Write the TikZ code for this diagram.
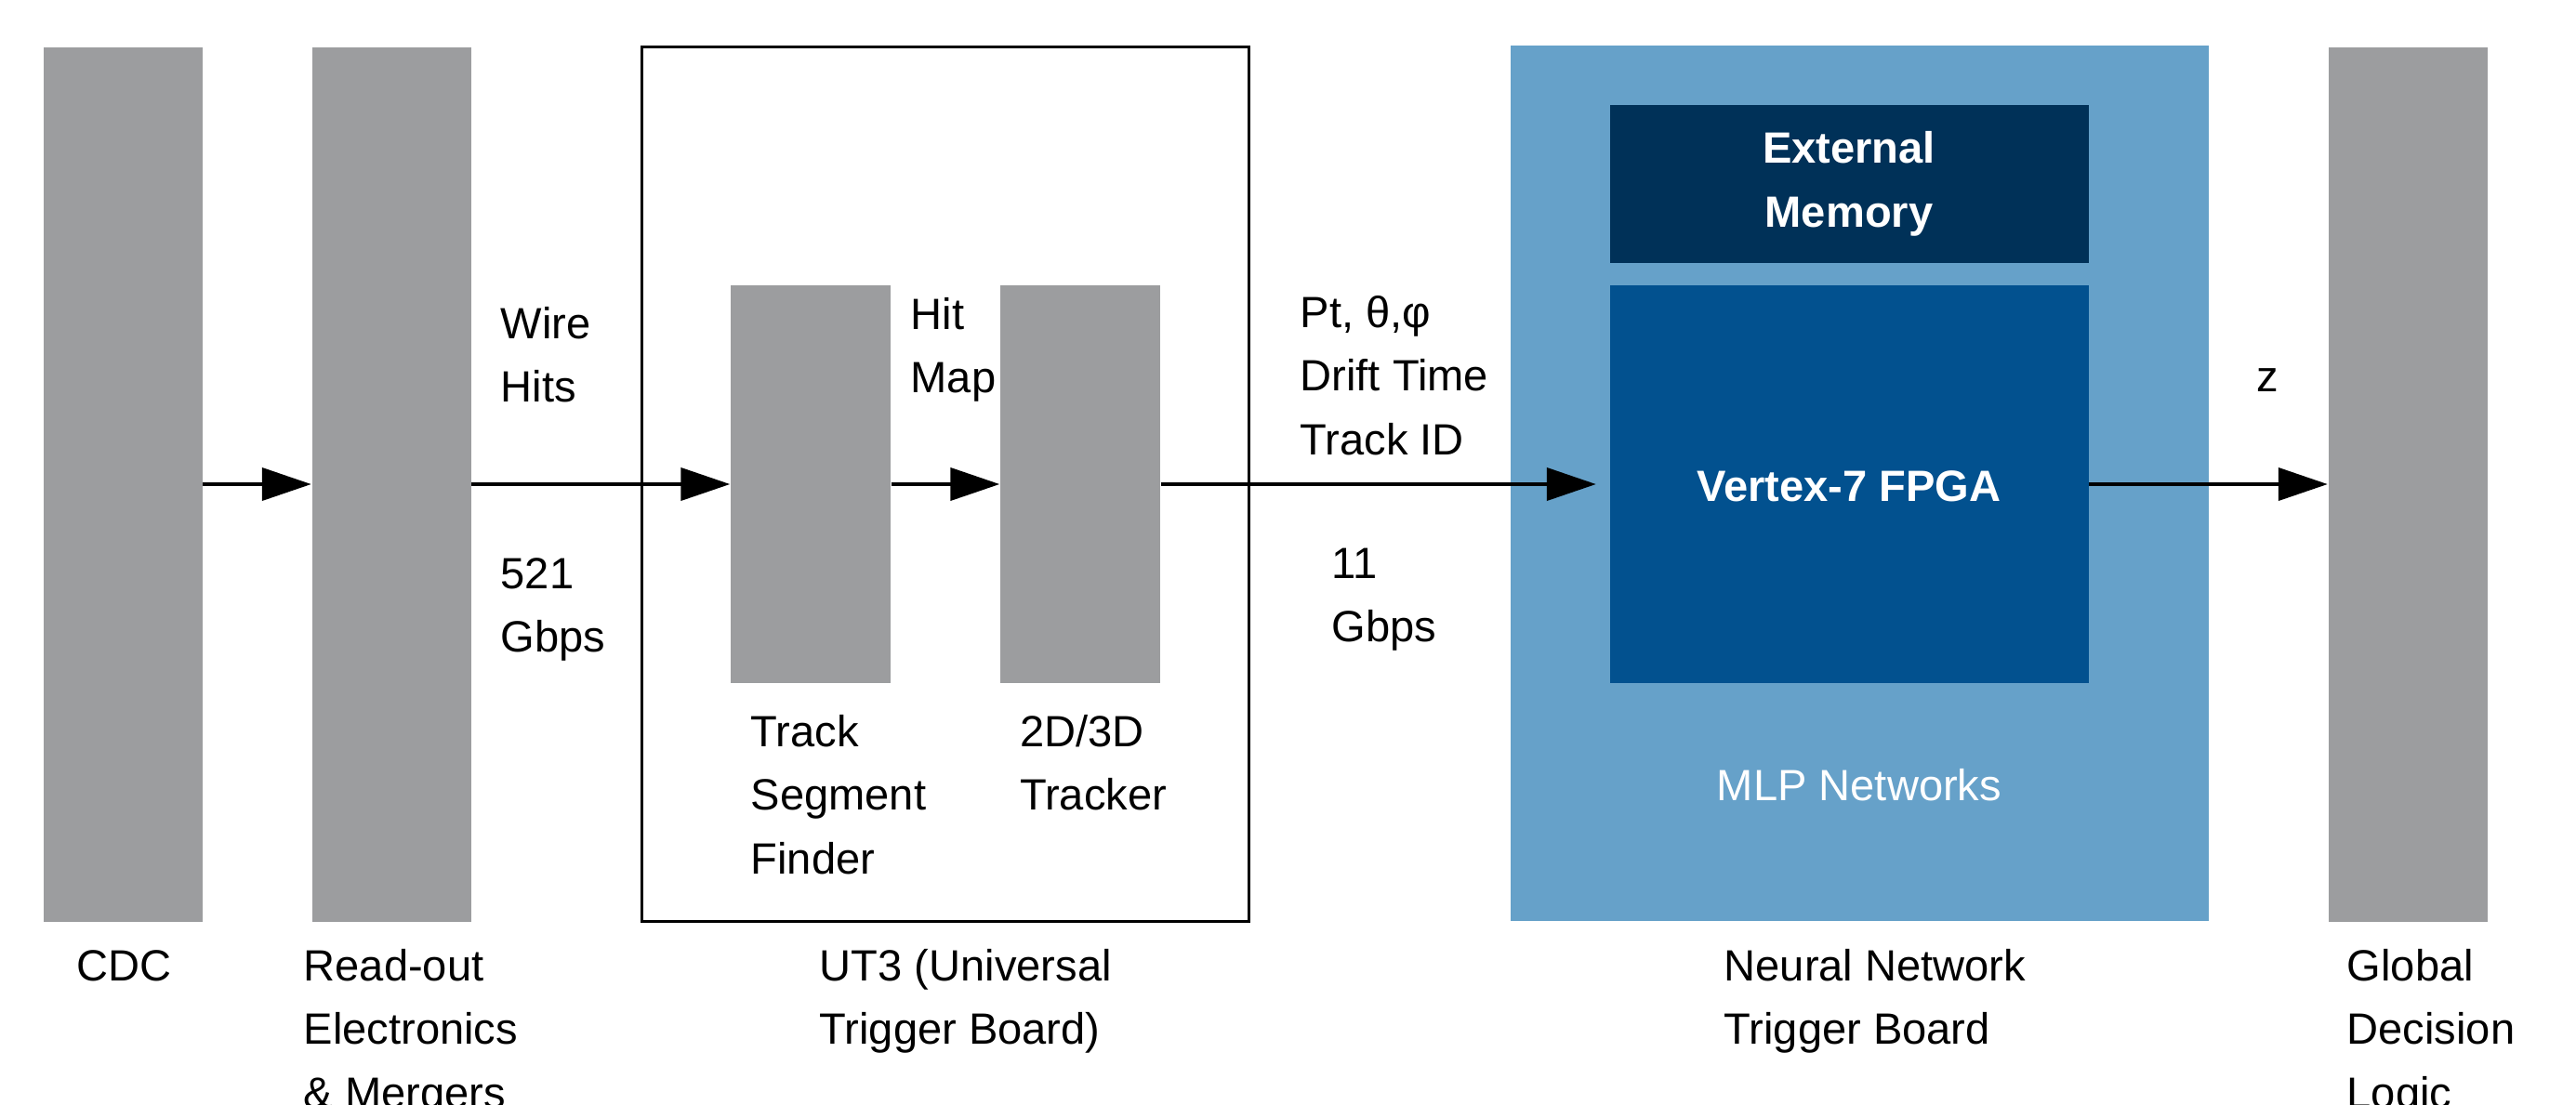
\documentclass[tikz,border=0pt]{standalone}
\usepackage{fontspec}
\setmainfont{Liberation Sans}
\usetikzlibrary{arrows.meta}

\definecolor{bargray}{HTML}{9C9D9F}
\definecolor{boardblue}{HTML}{66A1C9}
\definecolor{fpgablue}{HTML}{02518F}
\definecolor{memblue}{HTML}{003158}

\begin{document}
\begin{tikzpicture}[
	font=\fontsize{13.4}{19.5}\selectfont,
	bar/.style={fill=bargray, inner sep=0pt, minimum width=1.71cm, minimum height=9.41cm},
	unit/.style={fill=bargray, inner sep=0pt, minimum width=1.72cm, minimum height=4.275cm},
	chip/.style={fill=#1, inner sep=0pt, minimum width=5.15cm, text=white, font=\fontsize{13.4}{19.5}\selectfont\bfseries, align=center},
	txt/.style={anchor=base west, align=left, inner sep=0pt},
	flow/.style={line width=0.04cm, -{Triangle[length=0.53cm,width=0.35cm]}}
]
	\useasboundingbox (0,0) rectangle (27.71,11.88);

	% boards and blocks
	\node (cdc) at (1.32, 6.67) [bar] {};
	\node (ro) at (4.21, 6.67) [bar] {};
	\node (ut3) at (10.17, 6.67) [draw, line width=0.9pt, inner sep=0pt, minimum width=6.53cm, minimum height=9.41cm] {};
	\node (tsf) at (8.72, 6.67) [unit] {};
	\node (trk) at (11.62, 6.67) [unit] {};
	\node (nn) at (20.00, 6.68) [fill=boardblue, inner sep=0pt, minimum width=7.51cm, minimum height=9.415cm] {};
	\node (mem) at (19.89, 9.90) [chip=memblue, minimum height=1.70cm] {External\\Memory};
	\node (fpga) at (19.89, 6.67) [chip=fpgablue, minimum height=4.275cm] {};
	\node (gdl) at (25.90, 6.67) [bar] {};

	\node (fpgatxt) at (19.89, 6.49) [anchor=base, inner sep=0pt, text=white, font=\fontsize{13.4}{19.5}\selectfont\bfseries] {Vertex-7 FPGA};
	\node (mlp) at (20.00, 3.265) [anchor=base, inner sep=0pt, text=white] {MLP Networks};

	% data flow
	\path[flow]
		(cdc) edge (ro)
		(ro) edge (tsf)
		(tsf) edge (trk)
		(trk) edge[shorten >=0.14cm] (fpga)
		(fpga) edge (gdl);

	% flow labels (base = last line)
	\node (wire) at (5.38, 7.554) [txt] {Wire\\Hits};
	\node (rate1) at (5.38, 4.864) [txt] {521\\Gbps};
	\node (hitmap) at (9.79, 7.654) [txt] {Hit\\Map};
	\node (params) at (13.98, 6.988) [txt] {Pt, θ,φ\\Drift Time\\Track ID};
	\node (rate2) at (14.32, 4.974) [txt] {11\\Gbps};
	\node (zout) at (24.27, 7.67) [txt] {z};

	% block names
	\node (tsflab) at (8.07, 2.478) [txt] {Track\\Segment\\Finder};
	\node (trklab) at (10.965, 3.164) [txt] {2D/3D\\Tracker};
	\node (cdclab) at (0.82, 1.33) [txt] {CDC};
	\node (rolab) at (3.26, -0.042) [txt] {Read-out\\Electronics\\\& Mergers};
	\node (ut3lab) at (8.81, 0.644) [txt] {UT3 (Universal\\Trigger Board)};
	\node (nnlab) at (18.54, 0.644) [txt] {Neural Network\\Trigger Board};
	\node (gdllab) at (25.24, -0.042) [txt] {Global\\Decision\\Logic};
\end{tikzpicture}
\end{document}
